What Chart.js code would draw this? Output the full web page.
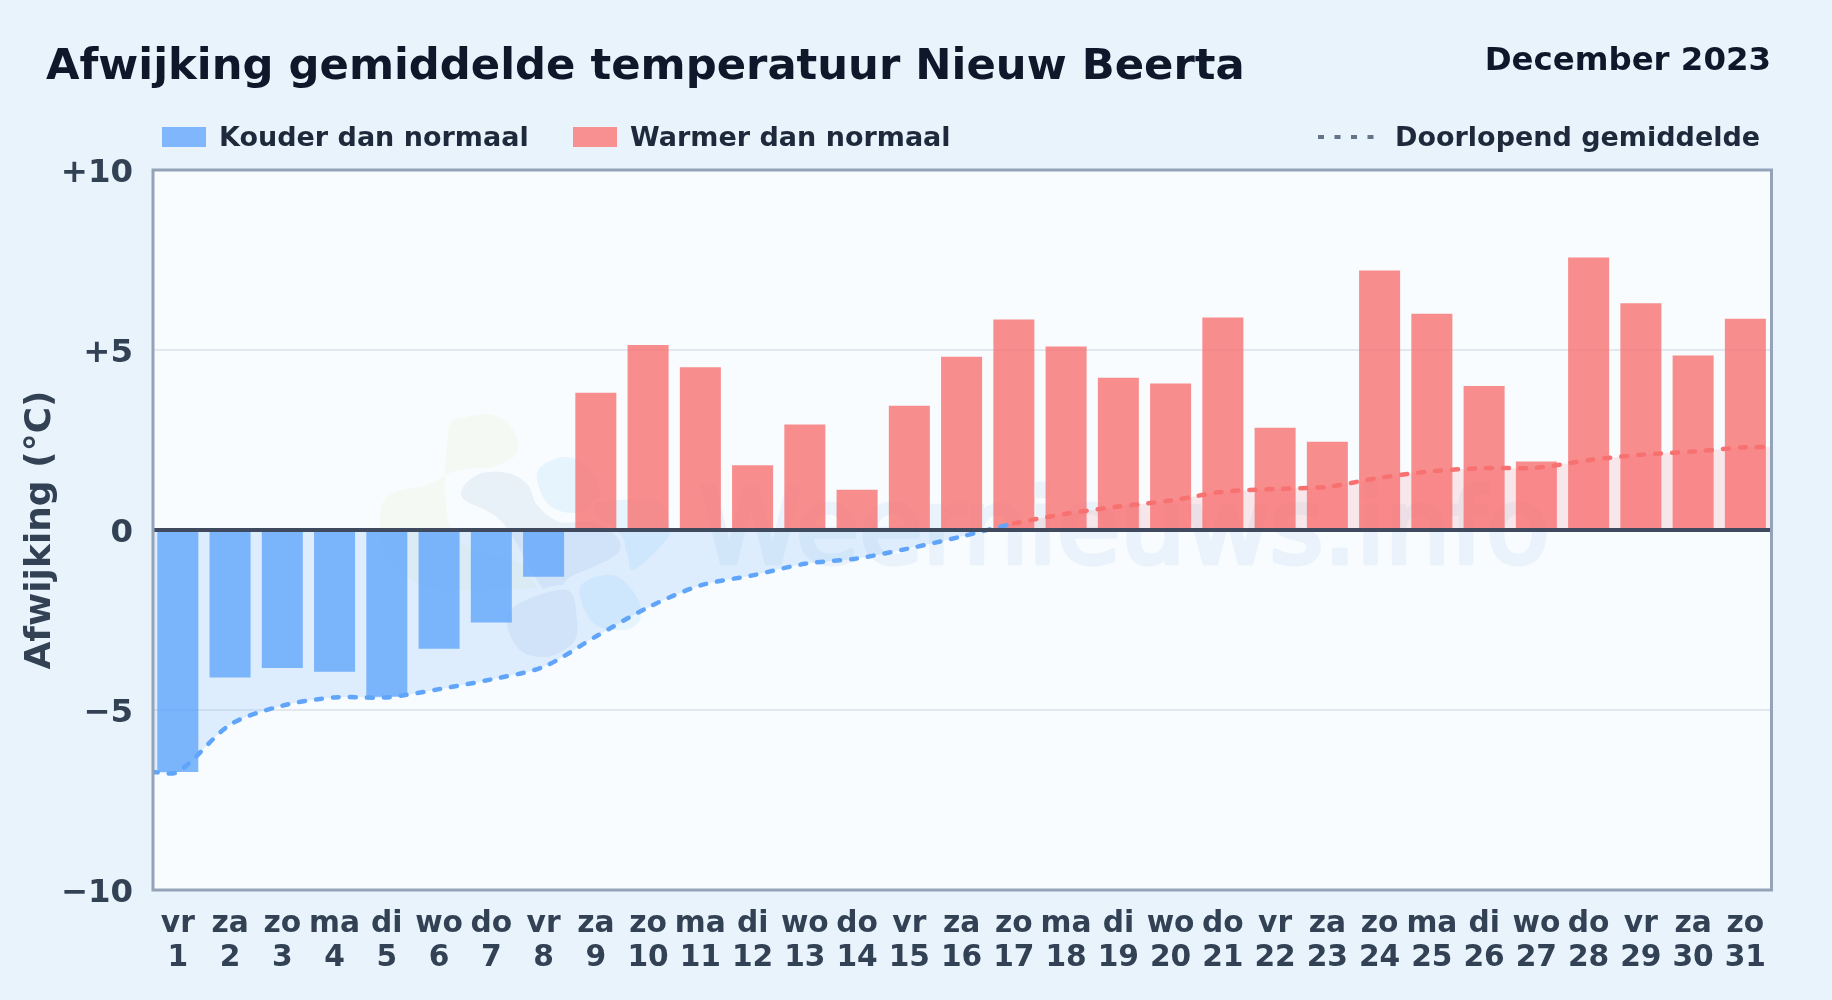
<!DOCTYPE html>
<html lang="nl">
<head>
<meta charset="utf-8">
<title>Afwijking gemiddelde temperatuur Nieuw Beerta</title>
<script src="https://cdn.jsdelivr.net/npm/chart.js@4/dist/chart.umd.min.js"></script>
<style>
    html, body { margin: 0; padding: 0; width: 1832px; height: 1000px; overflow: hidden; background: #e8f3fc; font-family: "DejaVu Sans", sans-serif; font-weight: bold; }
    #title { position: absolute; left: 46px; top: 38px; font-size: 43.3px; line-height: 52px; color: #0f172a; white-space: nowrap; }
    #period { position: absolute; right: 61px; top: 40px; font-size: 32.4px; line-height: 38px; color: #0f172a; white-space: nowrap; }
    .legend-item { position: absolute; top: 120px; height: 34px; line-height: 34px; font-size: 27px; color: #1e293b; white-space: nowrap; }
    .swatch { position: absolute; top: 127px; width: 44px; height: 20px; }
    #chart-wrap { position: absolute; left: 0; top: 0; width: 1832px; height: 1000px; }
</style>
</head>
<body>
<div id="chart-wrap"><canvas id="tempChart" width="1832" height="1000"></canvas></div>
<div id="title">Afwijking gemiddelde temperatuur Nieuw Beerta</div>
<div id="period">December 2023</div>
<div class="swatch" style="left:162px;background:#80b6fb"></div>
<div class="legend-item" style="left:219px">Kouder dan normaal</div>
<div class="swatch" style="left:573px;background:#f88f90"></div>
<div class="legend-item" style="left:630px">Warmer dan normaal</div>
<svg style="position:absolute;left:1316px;top:127px" width="62" height="20"><line x1="2" y1="10" x2="60" y2="10" stroke="#64748b" stroke-width="4" stroke-dasharray="6 10.5"/></svg>
<div class="legend-item" style="left:1395px">Doorlopend gemiddelde</div>

<script>
// --- data ---
const days = [1, 2, 3, 4, 5, 6, 7, 8, 9, 10, 11, 12, 13, 14, 15, 16, 17, 18, 19, 20, 21, 22, 23, 24, 25, 26, 27, 28, 29, 30, 31];
const weekdays = ['vr', 'za', 'zo', 'ma', 'di', 'wo', 'do', 'vr', 'za', 'zo', 'ma', 'di', 'wo', 'do', 'vr', 'za', 'zo', 'ma', 'di', 'wo', 'do', 'vr', 'za', 'zo', 'ma', 'di', 'wo', 'do', 'vr', 'za', 'zo'];
const deviation = [-6.72, -4.1, -3.83, -3.94, -4.63, -3.3, -2.57, -1.3, 3.81, 5.14, 4.52, 1.8, 2.93, 1.12, 3.45, 4.81, 5.85, 5.1, 4.23, 4.07, 5.9, 2.84, 2.45, 7.21, 6.01, 4.0, 1.9, 7.57, 6.3, 4.85, 5.87];
const runningMean = [-6.72, -5.41, -4.88, -4.65, -4.65, -4.42, -4.15, -3.8, -2.96, -2.15, -1.54, -1.26, -0.94, -0.79, -0.51, -0.18, 0.18, 0.45, 0.65, 0.82, 1.06, 1.14, 1.2, 1.45, 1.63, 1.72, 1.73, 1.94, 2.09, 2.18, 2.3];
const yTicks = [-10, -5, 0, 5, 10];

const BLUE = 'rgb(96, 165, 250)';
const RED = 'rgb(248, 113, 113)';

// watermark logo outlines, offsets from the plot's top left corner
const logoGreen = [[-32, 263], [-13, 247], [13, 245], [33, 260], [37, 283], [13, 297], [-7, 298], [-30, 303], [-53, 315], [-87, 323], [-100, 343], [-93, 387], [-53, 417], [13, 420], [60, 417], [70, 407], [40, 393], [-27, 363]];
const logoGrey = [[-18, 327], [-3, 305], [27, 303], [48, 315], [57, 335], [80, 352], [113, 352], [137, 367], [138, 383], [113, 397], [90, 407], [67, 423], [23, 353]];
const logoGreyLow = [[27, 453], [40, 433], [87, 420], [97, 450], [93, 473], [67, 487], [40, 480]];
const logoSkyTop = [[57, 303], [77, 288], [97, 290], [113, 303], [120, 330], [93, 343], [67, 333]];
const logoSkyRight = [[100, 417], [133, 405], [157, 427], [160, 450], [143, 460], [113, 453]];
const logoSkyMid = [[113, 337], [140, 330], [180, 333], [190, 360], [180, 377], [153, 400], [147, 383], [137, 367]];

// closed smooth curve through the outline points, with a pale halo round it
function drawBlob(ctx, pts, color) {
    const n = pts.length;
    ctx.beginPath();
    ctx.moveTo(pts[0][0], pts[0][1]);
    pts.forEach((p, i) => {
        const prev = pts[(i + n - 1) % n];
        const next = pts[(i + 1) % n];
        const after = pts[(i + 2) % n];
        ctx.bezierCurveTo(
            p[0] + (next[0] - prev[0]) / 6, p[1] + (next[1] - prev[1]) / 6,
            next[0] - (after[0] - p[0]) / 6, next[1] - (after[1] - p[1]) / 6,
            next[0], next[1]
        );
    });
    ctx.closePath();
    ctx.strokeStyle = '#f8fcff';
    ctx.lineWidth = 9;
    ctx.stroke();
    ctx.fillStyle = color;
    ctx.fill();
}

// plot background and the faint weernieuws.info watermark
const backdrop = {
    id: 'backdrop',
    beforeDraw(chart) {
        const { ctx, chartArea: a } = chart;
        ctx.save();
        ctx.fillStyle = '#f8fcff';
        ctx.fillRect(a.left, a.top, a.width, a.height);

        ctx.translate(a.left + 327, a.top);
        drawBlob(ctx, logoGreen, '#f4f9f3');
        drawBlob(ctx, logoSkyTop, '#e6f4fe');
        drawBlob(ctx, logoSkyMid, '#e6f4fe');
        drawBlob(ctx, logoSkyRight, '#e6f4fe');
        drawBlob(ctx, logoGrey, '#e8f0f8');
        drawBlob(ctx, logoGreyLow, '#e8f0f8');
        ctx.translate(-a.left - 327, -a.top);

        ctx.fillStyle = '#eaf3fb';
        ctx.strokeStyle = '#eaf3fb';
        ctx.lineWidth = 5;
        ctx.lineJoin = 'round';
        ctx.font = '103px "DejaVu Sans"';
        ctx.textBaseline = 'alphabetic';
        ctx.textAlign = 'left';
        ctx.fillText('Weernieuws.info', 700, 563);
        ctx.strokeText('Weernieuws.info', 700, 563);
        ctx.restore();
    }
};

// zero line and plot frame go on top of the marks
const frame = {
    id: 'frame',
    afterDatasetsDraw(chart) {
        const { ctx, chartArea: a, scales } = chart;
        const zero = scales.y.getPixelForValue(0);
        ctx.save();
        ctx.strokeStyle = '#3f4a5f';
        ctx.lineWidth = 4;
        ctx.beginPath();
        ctx.moveTo(a.left, zero);
        ctx.lineTo(a.right, zero);
        ctx.stroke();
        ctx.strokeStyle = '#94a3b8';
        ctx.lineWidth = 3;
        ctx.strokeRect(a.left, a.top, a.width, a.height);
        ctx.restore();
    }
};

const meanPoints = days.map((d, i) => ({ x: d, y: runningMean[i] }));
meanPoints.unshift({ x: 0.5, y: runningMean[0] });
meanPoints.push({ x: 31.5, y: runningMean[30] });

new Chart(document.getElementById('tempChart'), {
    data: {
        datasets: [
            {
                type: 'line',
                order: 0,
                data: meanPoints,
                pointRadius: 0,
                borderWidth: 4.5,
                borderCapStyle: 'round',
                borderDash: [6, 11],
                tension: 0.3,
                borderColor: BLUE,
                segment: {
                    borderColor: c => c.p0.parsed.y < 0 ? BLUE : RED
                },
                fill: {
                    target: 'origin',
                    above: 'rgba(248, 113, 113, 0.15)',
                    below: 'rgba(96, 165, 250, 0.17)'
                }
            },
            {
                type: 'bar',
                order: 1,
                data: days.map((d, i) => ({ x: d, y: deviation[i] })),
                backgroundColor: deviation.map(v => v < 0 ? 'rgba(96, 165, 250, 0.8)' : 'rgba(248, 113, 113, 0.8)'),
                borderWidth: 0,
                barPercentage: 0.785,
                categoryPercentage: 1
            }
        ]
    },
    options: {
        responsive: false,
        animation: false,
        devicePixelRatio: 1,
        layout: { padding: { left: 0, right: 60.5, top: 170, bottom: 0 } },
        plugins: {
            legend: { display: false },
            tooltip: { enabled: false },
            filler: { drawTime: 'beforeDatasetsDraw' }
        },
        scales: {
            x: {
                type: 'linear',
                offset: false,
                min: 0.525,
                max: 31.5,
                grid: { display: false, drawTicks: false },
                border: { display: false },
                afterBuildTicks(axis) {
                    axis.ticks = days.map(d => ({ value: d }));
                },
                afterFit(axis) {
                    axis.height = 110;
                },
                ticks: {
                    autoSkip: false,
                    maxRotation: 0,
                    padding: 17,
                    color: '#334155',
                    font: { family: '"DejaVu Sans"', size: 29.7, weight: 'bold', lineHeight: 1.145 },
                    callback: v => [weekdays[v - 1], String(v)]
                }
            },
            y: {
                min: -10,
                max: 10,
                afterBuildTicks(axis) {
                    axis.ticks = yTicks.map(v => ({ value: v }));
                },
                afterFit(axis) {
                    axis.width = 153;
                },
                grid: { color: '#e2e8f0', lineWidth: 2, drawTicks: false },
                border: { display: false },
                ticks: {
                    padding: 20,
                    labelOffset: 3.5,
                    color: '#334155',
                    font: { family: '"DejaVu Sans"', size: 32.4, weight: 'bold' },
                    callback: v => v > 0 ? '+' + v : (v < 0 ? '\u2212' + Math.abs(v) : '0')
                },
                title: {
                    display: true,
                    text: 'Afwijking (°C)',
                    color: '#334155',
                    padding: { top: 19, bottom: 0 },
                    font: { family: '"DejaVu Sans"', size: 36, weight: 'bold' }
                }
            }
        }
    },
    plugins: [backdrop, frame]
});
</script>
</body>
</html>
